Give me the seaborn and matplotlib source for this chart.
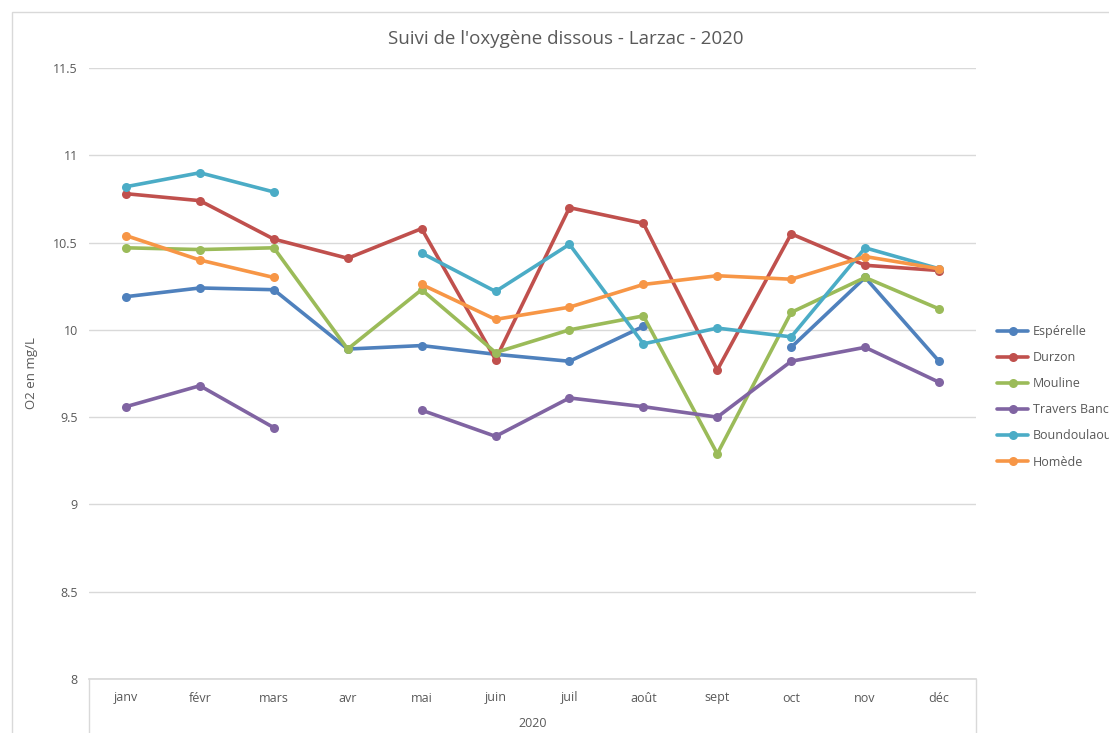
import numpy as np
import pandas as pd
import seaborn as sns
import matplotlib
matplotlib.use("Agg")
import matplotlib.pyplot as plt
from matplotlib.lines import Line2D
from matplotlib.patches import Rectangle

months = ["janv", "févr", "mars", "avr", "mai", "juin", "juil", "août", "sept", "oct", "nov", "déc"]
nan = np.nan
esperelle = [10.19, 10.24, 10.23, 9.89, 9.91, 9.86, 9.82, 10.02, nan, 9.90, 10.30, 9.82]
durzon = [10.78, 10.74, 10.52, 10.41, 10.58, 9.83, 10.70, 10.61, 9.77, 10.55, 10.37, 10.34]
mouline = [10.47, 10.46, 10.47, 9.89, 10.23, 9.87, 10.00, 10.08, 9.29, 10.10, 10.30, 10.12]
travers = [9.56, 9.68, 9.44, nan, 9.54, 9.39, 9.61, 9.56, 9.50, 9.82, 9.90, 9.70]
boundoulaou = [10.82, 10.90, 10.79, nan, 10.44, 10.22, 10.49, 9.92, 10.01, 9.96, 10.47, 10.35]
homede = [10.54, 10.40, 10.30, nan, 10.26, 10.06, 10.13, 10.26, 10.31, 10.29, 10.42, 10.35]

series = {
    "Espérelle": esperelle,
    "Durzon": durzon,
    "Mouline": mouline,
    "Travers Banc": travers,
    "Boundoulaou": boundoulaou,
    "Homède": homede,
}
colors = ["#4F81BD", "#C0504D", "#9BBB59", "#8064A2", "#4BACC6", "#F79646"]

rows = []
for name, vals in series.items():
    seg = 0
    for i, v in enumerate(vals):
        if np.isnan(v):
            seg += 1
            continue
        rows.append({"site": name, "x": i, "val": v, "seg": f"{name}-{seg}"})
df = pd.DataFrame(rows)

sns.set_theme(style="white")
plt.rcParams["font.family"] = ["Open Sans", "DejaVu Sans"]
txt = "#595959"

fig = plt.figure(figsize=(11.09, 7.33), dpi=100)
ax = fig.add_axes([89 / 1109, 1 - 679 / 733, (976 - 89) / 1109, (679 - 68) / 733])

palette = dict(zip(series.keys(), colors))
sns.lineplot(data=df, x="x", y="val", hue="site", units="seg", estimator=None,
             palette=palette, marker="o", markersize=6.5, markeredgewidth=0,
             linewidth=2.6, ax=ax, legend=False, sort=True)

ax.set_xlim(-0.5, 11.5)
ax.set_ylim(8, 11.5)
ax.set_yticks([8, 8.5, 9, 9.5, 10, 10.5, 11, 11.5])
ax.set_yticklabels(["8", "8.5", "9", "9.5", "10", "10.5", "11", "11.5"], color=txt, fontsize=9)
ax.set_xticks(range(12))
ax.set_xticklabels(months, color=txt, fontsize=9)
ax.tick_params(axis="x", length=0, pad=9)
ax.tick_params(axis="y", length=0, pad=8)
ax.grid(axis="y", color="#D9D9D9", linewidth=1)
ax.set_axisbelow(True)
for s in ["top", "left", "right"]:
    ax.spines[s].set_visible(False)
ax.spines["bottom"].set_color("#D9D9D9")
ax.set_xlabel("2020", color=txt, fontsize=9, labelpad=9)
ax.set_ylabel("O2 en mg/L", color=txt, fontsize=9.5)
ax.yaxis.set_label_coords((38 - 89) / 887, 0.5)
fig.text(566 / 1109, 1 - 39 / 733, "Suivi de l'oxygène dissous - Larzac - 2020",
         color=txt, fontsize=13.5, ha="center", va="center")

# category box side lines
for xp in [89, 976]:
    fig.add_artist(Line2D([xp / 1109, xp / 1109], [1 - 679 / 733, 0], color="#D9D9D9", lw=1))
# chart border (cropped)
fig.add_artist(Rectangle((12 / 1109, -0.1), 1.2, 1 - 12 / 733 + 0.1, fill=False,
                         edgecolor="#D9D9D9", lw=1))

handles = [Line2D([0], [0], color=c, lw=2.6, marker="o", markersize=6.5, markeredgewidth=0)
           for c in colors]
leg = fig.legend(handles, list(series.keys()), loc="upper left",
                 bbox_to_anchor=(992 / 1109, 1 - 320 / 733), frameon=False,
                 fontsize=9, labelcolor=txt, handlelength=2.5, handletextpad=0.4,
                 labelspacing=1.05, borderaxespad=0)

fig.savefig("out.png", dpi=100)
